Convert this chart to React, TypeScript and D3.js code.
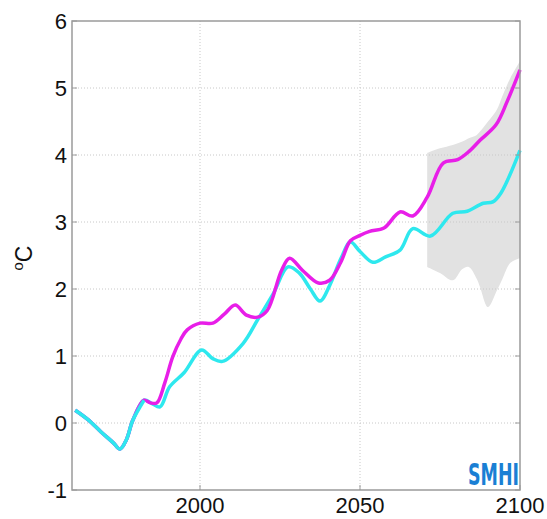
import React from "react";
import * as d3 from "d3";

const magYears = [1961, 1965, 1969, 1973, 1975, 1977, 1979, 1982.5, 1984.5, 1986.5, 1989, 1991.5, 1994, 1996, 2000, 2004, 2007.5, 2011, 2014.5, 2018, 2021, 2025.5, 2028, 2032, 2037, 2040.5, 2044, 2047, 2050, 2053, 2057.5, 2062.5, 2066.5, 2071, 2076, 2080.5, 2084, 2087.5, 2092.5, 2096, 2100];
const magValues = [0.19, 0.05, -0.13, -0.3, -0.39, -0.25, 0.04, 0.34, 0.3, 0.3, 0.6, 0.99, 1.25, 1.39, 1.49, 1.49, 1.62, 1.76, 1.61, 1.58, 1.68, 2.28, 2.46, 2.28, 2.09, 2.13, 2.4, 2.72, 2.8, 2.86, 2.91, 3.15, 3.09, 3.37, 3.88, 3.93, 4.05, 4.22, 4.45, 4.8, 5.27];

const cyanYears = [1961, 1965, 1969, 1973, 1975, 1977, 1979, 1982.5, 1985, 1987.5, 1990.5, 1995, 2000.5, 2004, 2007, 2013.5, 2018, 2023, 2027.5, 2031, 2034.5, 2037.5, 2040.5, 2044, 2047, 2050, 2054, 2058, 2062.5, 2066.5, 2072, 2079, 2083.5, 2088.5, 2091.5, 2094, 2100];
const cyanValues = [0.19, 0.05, -0.13, -0.3, -0.39, -0.25, 0.04, 0.34, 0.29, 0.24, 0.54, 0.75, 1.09, 0.96, 0.92, 1.19, 1.54, 1.94, 2.33, 2.24, 2.0, 1.82, 2.05, 2.45, 2.7, 2.56, 2.4, 2.48, 2.58, 2.9, 2.79, 3.13, 3.16, 3.28, 3.3, 3.43, 4.07];

const bandYears = [2071, 2075, 2079, 2082, 2084, 2086.5, 2087.5, 2090, 2092.8, 2094.5, 2097, 2100];
const bandUpper = [4.03, 4.1, 4.15, 4.2, 4.25, 4.3, 4.35, 4.5, 4.68, 4.88, 5.15, 5.4];
const bandLower = [2.33, 2.24, 2.13, 2.3, 2.33, 2.15, 2.03, 1.73, 1.98, 2.15, 2.39, 2.46];

const yTicks = [-1, 0, 1, 2, 3, 4, 5, 6];
const xTicks = [2000, 2050, 2100];

export default function App() {
  const W = 547, H = 519;
  const left = 72, right = 520, top = 21, bottom = 490;
  const x = d3.scaleLinear().domain([1960, 2100]).range([left, right]);
  const y = d3.scaleLinear().domain([-1, 6]).range([bottom, top]);

  const line = d3.line<[number, number]>().x(d => x(d[0])).y(d => y(d[1])).curve(d3.curveCatmullRom.alpha(0.5));
  const mag = magYears.map((t, i) => [t, magValues[i]] as [number, number]);
  const cya = cyanYears.map((t, i) => [t, cyanValues[i]] as [number, number]);
  const band = d3.area<number>()
    .x((_, i) => x(bandYears[i]))
    .y0((_, i) => y(bandLower[i]))
    .y1((_, i) => y(bandUpper[i]))
    .curve(d3.curveCatmullRom.alpha(0.5));

  const font = "'Liberation Sans', Arial, Helvetica, sans-serif";

  return (
    <svg width={W} height={H} style={{ position: "absolute", left: 0, top: 0, background: "#fff" }}>
      <rect x={0} y={0} width={W} height={H} fill="#fff" />
      <path d={band(bandYears.map((_, i) => i)) || ""} fill="#e2e2e2" />
      {yTicks.slice(1, -1).map(v => (
        <line key={"gy" + v} x1={left} x2={right} y1={y(v)} y2={y(v)} stroke="#c8c8c8" strokeWidth={1} strokeDasharray="1,2" />
      ))}
      {xTicks.slice(0, -1).map(v => (
        <line key={"gx" + v} x1={x(v)} x2={x(v)} y1={top} y2={bottom} stroke="#c8c8c8" strokeWidth={1} strokeDasharray="1,2" />
      ))}
      <path d={line(cya) || ""} fill="none" stroke="#2ee8ee" strokeWidth={3.5} strokeLinejoin="round" />
      <path d={line(mag) || ""} fill="none" stroke="#e81ee8" strokeWidth={3.5} strokeLinejoin="round" />
      <path d={line(cya.slice(0, 8)) || ""} fill="none" stroke="#2ee8ee" strokeWidth={3.5} strokeLinejoin="round" />
      <rect x={left} y={top} width={right - left} height={bottom - top} fill="none" stroke="#9a9a9a" strokeWidth={1.5} />
      {yTicks.map(v => (
        <g key={"ty" + v}>
          <line x1={left} x2={left + 5} y1={y(v)} y2={y(v)} stroke="#9a9a9a" />
          <line x1={right - 5} x2={right} y1={y(v)} y2={y(v)} stroke="#9a9a9a" />
          <text x={left - 5} y={y(v)} dy="0.36em" textAnchor="end" fontFamily={font} fontSize={22} fill="#111">{v}</text>
        </g>
      ))}
      {xTicks.map(v => (
        <g key={"tx" + v}>
          <line x1={x(v)} x2={x(v)} y1={bottom} y2={bottom - 5} stroke="#9a9a9a" />
          <text x={x(v)} y={513} textAnchor="middle" fontFamily={font} fontSize={22} fill="#111">{v}</text>
        </g>
      ))}
      <text transform={`translate(32,258) rotate(-90)`} textAnchor="middle" fontFamily={font} fontSize={23} fill="#111">
        <tspan fontSize={15} dy="-9">o</tspan><tspan dy="9">C</tspan>
      </text>
      <text x={468} y={485} textLength={51} lengthAdjust="spacingAndGlyphs" fontFamily="'Liberation Sans Narrow', 'DejaVu Sans Condensed', Arial, sans-serif" fontWeight="bold" fontSize={30} fill="#1a7fd4">SMHI</text>
    </svg>
  );
}
